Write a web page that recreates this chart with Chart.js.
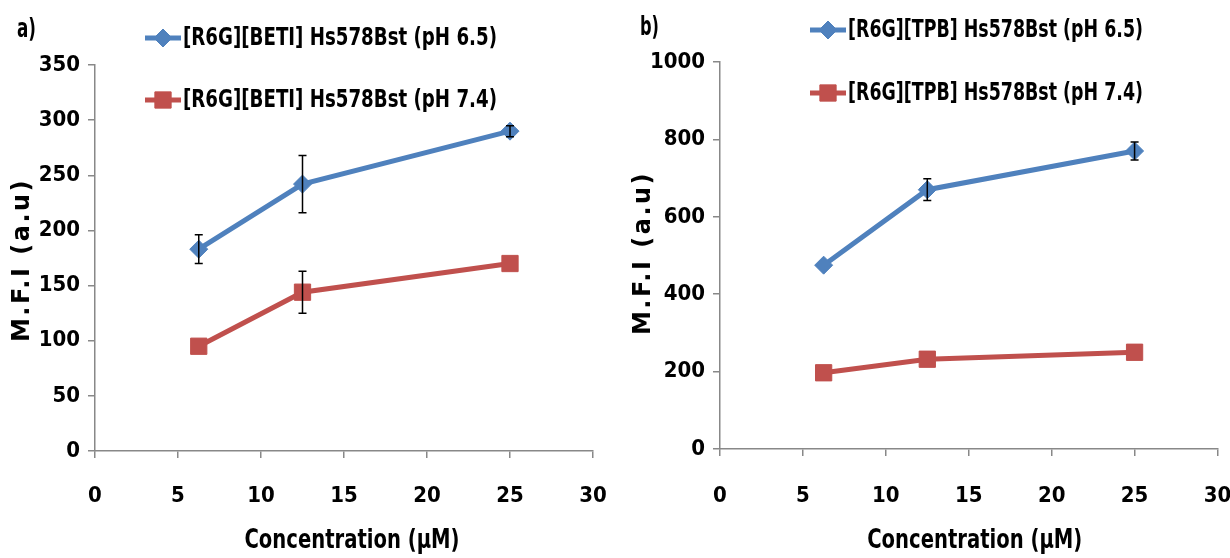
<!DOCTYPE html>
<html><head><meta charset="utf-8">
<script src="https://cdn.jsdelivr.net/npm/chart.js@4.4.1/dist/chart.umd.min.js"></script>
<style>
html,body{margin:0;padding:0;background:#fff;width:1230px;height:558px;overflow:hidden}
.wrap{position:absolute;top:0;width:615px;height:558px}
#wa{left:0}#wb{left:615px}
</style></head><body>
<div class="wrap" id="wa"><canvas id="ca" width="615" height="558"></canvas></div>
<div class="wrap" id="wb"><canvas id="cb" width="615" height="558"></canvas></div>
<script>
// ---- data ----
const concentrations = [6.25, 12.5, 25];
const xTickLabels = ['0','5','10','15','20','25','30'];
const betiLabels = ['[R6G][BETI] Hs578Bst (pH 6.5)', '[R6G][BETI] Hs578Bst (pH 7.4)'];
const betiPh65 = [183, 242, 290];
const betiPh65Err = [13, 26, 5];
const betiPh74 = [95, 144, 170];
const betiPh74Err = [0, 19, 0];
const tpbLabels = ['[R6G][TPB] Hs578Bst (pH 6.5)', '[R6G][TPB] Hs578Bst (pH 7.4)'];
const tpbPh65 = [475, 670, 770];
const tpbPh65Err = [0, 28, 23];
const tpbPh74 = [197, 232, 250];
const tpbPh74Err = [0, 0, 0];
const yTicksA = [0, 50, 100, 150, 200, 250, 300, 350];
const yTicksB = [0, 200, 400, 600, 800, 1000];
const xTitle = 'Concentration (μM)';
const yTitle = 'M.F.I (a.u)';

const BLUE = '#4F81BD', RED = '#C0504D';
const NARROW = "'Liberation Sans Narrow','DejaVu Sans Condensed','Arial Narrow',sans-serif";
const HEAVY = "'DejaVu Sans','Liberation Sans',sans-serif";

const errorBars = {
  id: 'errorBars',
  afterDatasetsDraw(chart) {
    const {ctx, scales: {x, y}} = chart;
    chart.data.datasets.forEach(ds => {
      if (!ds.errors) return;
      ds.data.forEach((p, j) => {
        const e = ds.errors[j]; if (!e) return;
        const px = x.getPixelForValue(p.x);
        const yt = y.getPixelForValue(p.y + e), yb = y.getPixelForValue(p.y - e);
        ctx.save(); ctx.strokeStyle = '#000'; ctx.lineWidth = 1.5;
        ctx.beginPath();
        ctx.moveTo(px, yt); ctx.lineTo(px, yb);
        ctx.moveTo(px - 4, yt); ctx.lineTo(px + 4, yt);
        ctx.moveTo(px - 4, yb); ctx.lineTo(px + 4, yb);
        ctx.stroke(); ctx.restore();
      });
    });
  }
};

const sideLegend = {
  id: 'sideLegend',
  afterDraw(chart, args, opts) {
    const ctx = chart.ctx, ca = chart.chartArea;
    ctx.save();
    // panel letter
    ctx.fillStyle = '#000'; ctx.font = 'bold 27px ' + NARROW;
    ctx.textAlign = 'left'; ctx.textBaseline = 'middle';
    ctx.fillText(opts.panel, opts.panelX, opts.panelY, 19);
    chart.data.datasets.forEach((ds, i) => {
      const y = opts.rows[i], x0 = opts.x;
      ctx.strokeStyle = ds.borderColor; ctx.lineWidth = 5;
      ctx.beginPath(); ctx.moveTo(x0, y); ctx.lineTo(x0 + 36, y); ctx.stroke();
      ctx.fillStyle = ds.backgroundColor; ctx.lineWidth = 1;
      Chart.helpers.drawPoint(ctx, {pointStyle: ds.pointStyle, radius: ds.pointRadius, borderWidth: 1}, x0 + 18, y);
      ctx.fillStyle = '#000'; ctx.font = 'bold 25px ' + NARROW;
      ctx.fillText(ds.label, x0 + 38, y, opts.legW);
    });
    // x title
    ctx.textAlign = 'center';
    ctx.font = 'bold 27px ' + NARROW;
    ctx.fillText(xTitle, (ca.left + ca.right) / 2 + opts.xtDx, 541, 215);
    // y title
    ctx.save();
    ctx.translate(opts.ytX, opts.ytY);
    ctx.rotate(-Math.PI / 2);
    ctx.font = 'bold 24px ' + HEAVY;
    ctx.letterSpacing = '2.5px';
    ctx.fillText(yTitle, 0, 0);
    ctx.restore();
    ctx.restore();
  }
};

function pts(xs, ys) { return xs.map((x, i) => ({x, y: ys[i]})); }

function makeChart(id, labels, s1, e1, s2, e2, yTicks, yMax, geom) {
  return new Chart(document.getElementById(id), {
    type: 'line',
    data: {datasets: [
      {label: labels[0], data: pts(concentrations, s1), errors: e1, borderColor: BLUE, backgroundColor: BLUE,
       borderWidth: 5, pointStyle: 'rectRot', pointRadius: 9, pointBorderWidth: 1, tension: 0},
      {label: labels[1], data: pts(concentrations, s2), errors: e2, borderColor: RED, backgroundColor: RED,
       borderWidth: 5, pointStyle: 'rect', pointRadius: 11.5, pointBorderWidth: 1, tension: 0}
    ]},
    options: {
      responsive: false, animation: false, events: [],
      layout: {padding: {left: 0, top: geom.top, right: geom.right, bottom: 0}},
      plugins: {legend: {display: false}, tooltip: {enabled: false},
        sideLegend: {panel: geom.panel, panelX: geom.panelX, panelY: geom.panelY, x: geom.legX, rows: geom.rows,
          legW: geom.legW, ytX: geom.ytX, ytY: geom.ytY, xtDx: geom.xtDx}},
      scales: {
        x: {type: 'linear', min: 0, max: 30,
          afterBuildTicks: s => { s.ticks = xTickLabels.map(v => ({value: +v})); },
          afterFit: s => { s.height = geom.xh; s.paddingLeft = 0; s.paddingRight = 0; },
          grid: {drawOnChartArea: false, drawTicks: true, tickLength: 7, color: '#888', lineWidth: 1.5},
          border: {color: '#888', width: 1.5},
          ticks: {padding: geom.xtp, color: '#000', font: {family: NARROW, size: 22, weight: 'bold'}, maxRotation: 0,
            callback: (v, i) => xTickLabels[i]},
          title: {display: false}
        },
        y: {type: 'linear', min: 0, max: yMax,
          afterBuildTicks: s => { s.ticks = yTicks.map(v => ({value: v})); },
          afterFit: s => { s.width = geom.yw; s.paddingTop = 0; s.paddingBottom = 0; },
          grid: {drawOnChartArea: false, drawTicks: true, tickLength: 7, color: '#888', lineWidth: 1.5},
          border: {color: '#888', width: 1.5},
          ticks: {padding: 8, color: '#000', font: {family: NARROW, size: 22, weight: 'bold'},
            callback: v => String(v)},
          title: {display: false}
        }
      }
    },
    plugins: [errorBars, sideLegend]
  });
}

makeChart('ca', betiLabels, betiPh65, betiPh65Err, betiPh74, betiPh74Err, yTicksA, 350,
  {top: 65, right: 22, xh: 107, yw: 95, xtp: 25, panel: 'a)', panelX: 17, panelY: 30, legX: 145, rows: [38, 100],
   legW: 314, ytX: 23, ytY: 260, xtDx: 8});
makeChart('cb', tpbLabels, tpbPh65, tpbPh65Err, tpbPh74, tpbPh74Err, yTicksB, 1000,
  {top: 62, right: 12, xh: 109, yw: 105, xtp: 27, panel: 'b)', panelX: 25, panelY: 28, legX: 195, rows: [30, 93],
   legW: 295, ytX: 29, ytY: 253, xtDx: 6});
</script>
</body></html>
